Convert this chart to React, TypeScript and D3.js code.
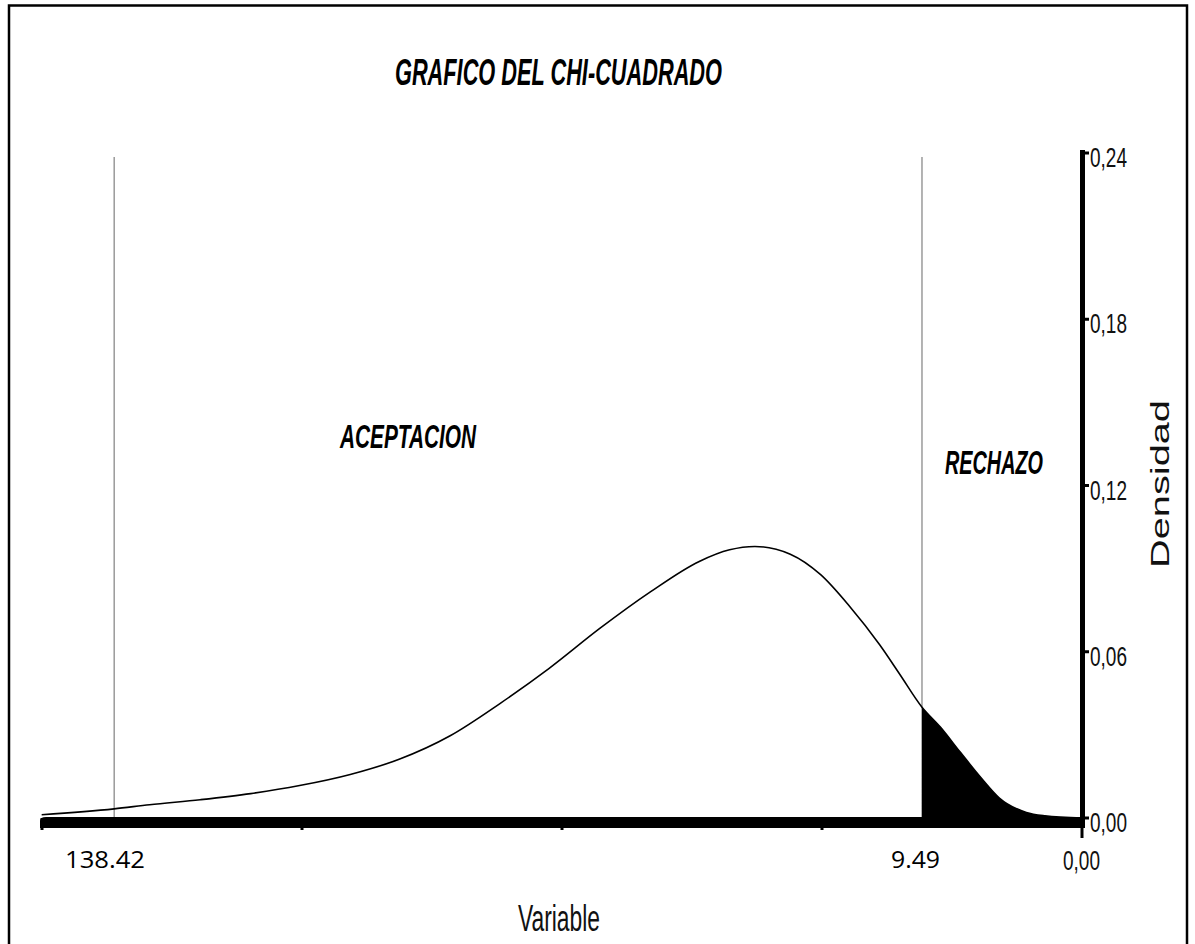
import React from "react";
import * as d3 from "d3";

const variable = [61.7, 57.4, 55.3, 52.3, 49.3, 46.4, 43.4, 40.5, 37.5, 34.5, 31.6, 28.6, 25.6, 22.7, 20.9, 19.4, 17.3, 15.5, 13.8, 12.0, 10.8, 9.49, 8.4, 7.2, 6.0, 4.9, 3.3, 2.2, 0];
const density = [0.0012, 0.0033, 0.0048, 0.0066, 0.0088, 0.0117, 0.0157, 0.0212, 0.0296, 0.0414, 0.054, 0.0684, 0.0816, 0.0926, 0.0968, 0.098, 0.0952, 0.0878, 0.0765, 0.0625, 0.0518, 0.0400, 0.0328, 0.0236, 0.0146, 0.0072, 0.002, 0.0008, 0];
const yTicks = [0, 0.06, 0.12, 0.18, 0.24];
const yTickLabels = ["0,00", "0,06", "0,12", "0,18", "0,24"];
const xTicks = [0, 15.42, 30.84, 46.26, 61.68];
const criticalValue = 9.49;
const leftLineValue = 57.4;
const criticalLabel = "9.49";
const leftLabel = "138.42";
const xZeroLabel = "0,00";
const title = "GRAFICO DEL CHI-CUADRADO";
const regionLabels = ["ACEPTACION", "RECHAZO"];
const xTitle = "Variable";
const yTitle = "Densidad";

export default function App() {
  const W = 1195, H = 944;
  const x = d3.scaleLinear().domain([61.68, 0]).range([42, 1082]);
  const y = d3.scaleLinear().domain([0, 0.24]).range([818, 153]);
  const pts = variable.map((v, i) => ({ v, d: density[i] }));
  const line = d3.line<any>().x(p => x(p.v)).y(p => y(p.d)).curve(d3.curveMonotoneX);
  const tail = pts.filter(p => p.v <= criticalValue);
  const area = d3.area<any>().x(p => x(p.v)).y0(y(0)).y1(p => y(p.d)).curve(d3.curveMonotoneX);
  const cond = "'Liberation Sans', Arial, sans-serif";
  return (
    <svg width={W} height={H} style={{ position: "absolute", left: 0, top: 0, background: "#fff" }}>
      <rect x={9} y={5.5} width={1178} height={H + 10} fill="#fff" stroke="#000" strokeWidth={2.5} />
      <text x={395} y={85} fontFamily={cond} fontSize={36} fontWeight="bold" fontStyle="italic" textLength={327} lengthAdjust="spacingAndGlyphs">{title}</text>
      <line x1={x(leftLineValue)} x2={x(leftLineValue)} y1={157} y2={y(0)} stroke="#808080" strokeWidth={1.2} />
      <line x1={x(criticalValue)} x2={x(criticalValue)} y1={157} y2={y(0)} stroke="#808080" strokeWidth={1.2} />
      <path d={area(tail) || ""} fill="#000" />
      <path d={line(pts) || ""} fill="none" stroke="#000" strokeWidth={1.6} />
      <path d={`M${x(61.68) - 2},${y(0) + 10} L${x(61.68) - 2},${y(0) + 3} Q${x(61.68) - 2},${y(0) - 1} ${x(61.68) + 4},${y(0) - 1} L${x(0) + 1},${y(0) - 1} L${x(0) + 1},${y(0) + 10} Z`} fill="#000" />
      {xTicks.map((t, i) => (
        <line key={i} x1={x(t)} x2={x(t)} y1={y(0)} y2={t === 0 ? y(0) + 20 : y(0) + 12} stroke="#000" strokeWidth={3} />
      ))}
      <line x1={x(0) + 0.5} x2={x(0) + 0.5} y1={y(0.24) - 3} y2={y(0) + 10} stroke="#000" strokeWidth={5} />
      {yTicks.map((t, i) => (
        <g key={i}>
          <line x1={x(0)} x2={x(0) + 7} y1={y(t)} y2={y(t)} stroke="#000" strokeWidth={3} />
          <text x={1090} y={y(t) + 14} fontFamily={cond} fontSize={28} textLength={37} lengthAdjust="spacingAndGlyphs" fill="#111">{yTickLabels[i]}</text>
        </g>
      ))}
      <text x={1063} y={870} fontFamily={cond} fontSize={28} textLength={37} lengthAdjust="spacingAndGlyphs" fill="#111">{xZeroLabel}</text>
      <text transform={`translate(1169,484) rotate(-90)`} textAnchor="middle" fontFamily={cond} fontSize={25} textLength={168} lengthAdjust="spacingAndGlyphs" fill="#111">{yTitle}</text>
      <text x={340} y={448} fontFamily={cond} fontSize={33} fontWeight="bold" fontStyle="italic" textLength={136} lengthAdjust="spacingAndGlyphs">{regionLabels[0]}</text>
      <text x={945} y={474} fontFamily={cond} fontSize={33} fontWeight="bold" fontStyle="italic" textLength={98} lengthAdjust="spacingAndGlyphs">{regionLabels[1]}</text>
      <text x={65} y={868} fontFamily="'Open Sans', 'Liberation Sans', sans-serif" fontSize={24} textLength={80} lengthAdjust="spacingAndGlyphs" fill="#000">{leftLabel}</text>
      <text x={891} y={868} fontFamily="'Open Sans', 'Liberation Sans', sans-serif" fontSize={24} textLength={49} lengthAdjust="spacingAndGlyphs" fill="#000">{criticalLabel}</text>
      <text x={518} y={931} fontFamily={cond} fontSize={36} textLength={82} lengthAdjust="spacingAndGlyphs" fill="#111">{xTitle}</text>
    </svg>
  );
}
